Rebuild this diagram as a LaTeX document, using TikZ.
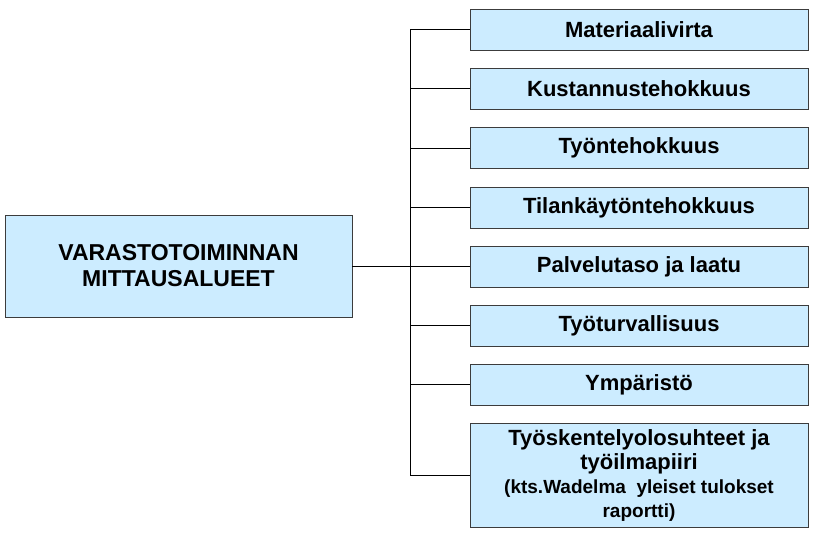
\documentclass[tikz,border=0pt]{standalone}
\usepackage{fontspec}
\setmainfont{Liberation Sans}
\usetikzlibrary{positioning}
\definecolor{boxFill}{RGB}{204,236,255}
\definecolor{boxLine}{RGB}{60,60,60}
\tikzset{
    box/.style={
        draw=boxLine,
        thick,
        fill=boxFill,
        font=\bfseries\fontsize{22}{24}\selectfont,
        align=center,
        minimum width=338pt,
        minimum height=41pt,
        inner sep=1pt
    },
    link/.style={
        thick,
        color=black
    }
}
\begin{document}
\begin{tikzpicture}[x=1pt, y=-1pt]
  \useasboundingbox (0,0) rectangle (815,533);

  % Main area
  \node[box, minimum width=347pt, minimum height=102pt, font=\bfseries\fontsize{23}{26}\selectfont] (main) at (178.5,266) {VARASTOTOIMINNAN\\MITTAUSALUEET};

  % Measurement areas
  \node[box] (m1) at (639,29.5) {Materiaalivirta};
  \node[box] (m2) at (639,88.5) {Kustannustehokkuus};
  \node[box] (m3) at (639,148) {Työntehokkuus};
  \node[box] (m4) at (639,207.5) {Tilankäytöntehokkuus};
  \node[box] (m5) at (639,266.5) {Palvelutaso ja laatu};
  \node[box] (m6) at (639,325.5) {Työturvallisuus};
  \node[box] (m7) at (639,384.5) {Ympäristö};
  \node[box, minimum height=104pt] (m8) at (639,475) {Työskentelyolosuhteet ja\\työilmapiiri\\{\fontsize{19}{23}\selectfont (kts.Wadelma\ \ yleiset tulokset}\\{\fontsize{19}{23}\selectfont raportti)}};

  % Tree
  \coordinate (trunk) at (411,266);
  \draw[link] (main.east) -- (trunk);
  \draw[link] (m1.west) -- ++(-59,0) |- (m8.west);
  \foreach \i in {2,...,7} {
    \draw[link] (m\i.west) -- ++(-59,0);
  }
\end{tikzpicture}
\end{document}
